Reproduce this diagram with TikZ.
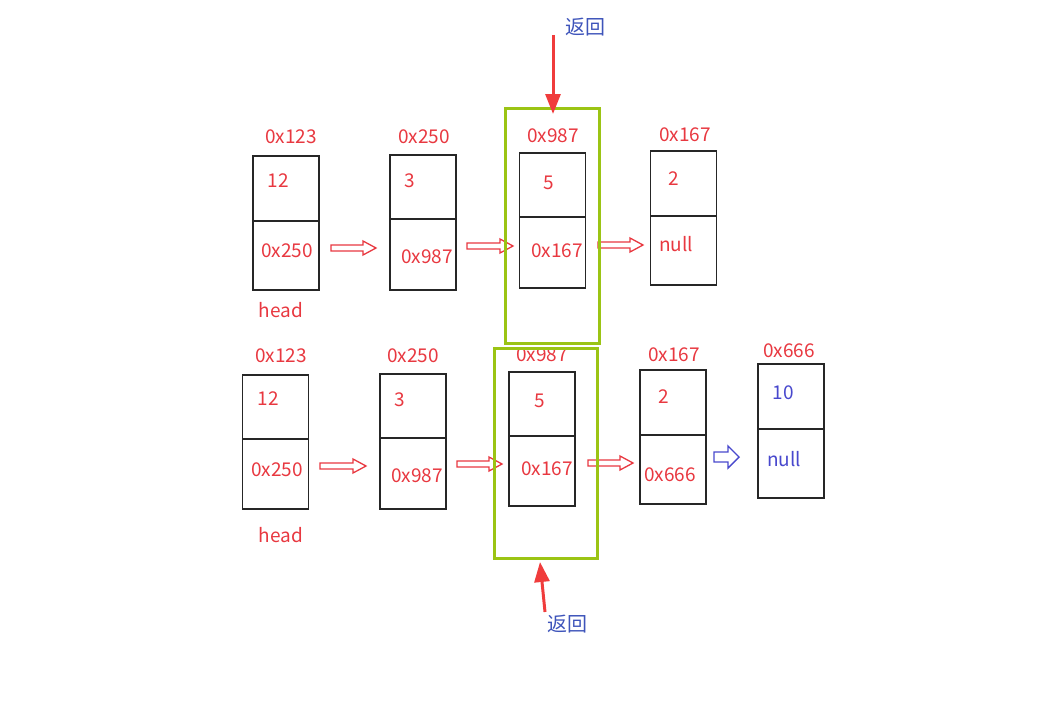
\documentclass[tikz,border=0pt]{standalone}
\usepackage{fontspec}
\setmainfont{Noto Sans CJK SC}
\usetikzlibrary{arrows.meta}
\definecolor{tred}{RGB}{232,56,64}
\definecolor{tblue}{RGB}{62,84,186}
\definecolor{nblue}{RGB}{72,72,205}
\definecolor{tgreen}{RGB}{155,196,20}
\definecolor{ared}{RGB}{240,60,60}
\tikzset{
  cell/.style={draw=black!85, line width=1.3pt, inner sep=0pt, minimum width=66pt},
  rtxt/.style={text=tred, font=\fontsize{19}{22}\selectfont, inner sep=0pt},
  btxt/.style={text=nblue, font=\fontsize{19}{22}\selectfont, inner sep=0pt},
  ftxt/.style={text=tblue, font=\fontsize{20}{22}\selectfont, inner sep=0pt},
  hol/.style={draw=tred, line width=1.3pt, line join=miter},
  holb/.style={draw=nblue, line width=1.4pt, line join=miter},
  gbox/.style={draw=tgreen, line width=3pt, inner sep=0pt},
  redarr/.style={draw=ared, line width=3pt, -{Triangle[length=20pt,width=15pt]}}
}
% hollow arrow: style, start point, length, shaft half, head half, head length
\newcommand\holarrow[6]{%
  \draw[#1] (#2) ++(0,-#4) -- ++({#3-#6},0) -- ++(0,{#4-#5}) -- ++(#6,#5) -- ++(-#6,#5) -- ++(0,{#4-#5}) -- ++({-(#3-#6)},0) -- cycle;}
\begin{document}
\begin{tikzpicture}[x=1pt,y=-1pt]
\useasboundingbox (0,0) rectangle (1048,701);
% ---------- row 1 ----------
\node[cell, minimum height=65pt] (a1t) at (286,188.5) {};
\node[cell, minimum height=69pt] (a1b) at (286,255.5) {};
\node[cell, minimum height=64pt] (a2t) at (423,187) {};
\node[cell, minimum height=71pt] (a2b) at (423,254.5) {};
\node[cell, minimum height=64pt] (a3t) at (552.5,185) {};
\node[cell, minimum height=71pt] (a3b) at (552.5,252.5) {};
\node[cell, minimum height=65pt] (a4t) at (683.5,183.5) {};
\node[cell, minimum height=69pt] (a4b) at (683.5,250.5) {};
\node[rtxt] (la1) at (291,137) {0x123};
\node[rtxt] (la2) at (424,137) {0x250};
\node[rtxt] (la3) at (553,136) {0x987};
\node[rtxt] (la4) at (685,135) {0x167};
\node[rtxt] (va1) at (278,181) {12};
\node[rtxt] (pa1) at (287,251) {0x250};
\node[rtxt] (ha) at (281,310) {head};
\node[rtxt] (va2) at (410,181) {3};
\node[rtxt] (pa2) at (427,257) {0x987};
\node[rtxt] (va3) at (549,183) {5};
\node[rtxt] (pa3) at (557,251) {0x167};
\node[rtxt] (va4) at (674,179) {2};
\node[rtxt] (pa4) at (676,244) {null};
\coordinate (sa1) at (331,248);
\coordinate (sa2) at (467,246);
\coordinate (sa3) at (598,245);
\holarrow{hol}{sa1}{45}{3}{7}{13}
\holarrow{hol}{sa2}{46}{3}{7}{13}
\holarrow{hol}{sa3}{45}{3}{7}{13}
\node[gbox, minimum width=94pt, minimum height=235pt] (g1) at (552,225.5) {};
\node[ftxt] (f1) at (585,27) {返回};
\coordinate (t1) at (553,35);
\coordinate (h1) at (553,114);
\draw[redarr] (t1) -- (h1);
% ---------- row 2 ----------
\node[cell, minimum height=64pt] (b1t) at (275.5,407) {};
\node[cell, minimum height=70pt] (b1b) at (275.5,474) {};
\node[cell, minimum height=64pt] (b2t) at (413,406) {};
\node[cell, minimum height=71pt] (b2b) at (413,473.5) {};
\node[cell, minimum height=64pt] (b3t) at (542,404) {};
\node[cell, minimum height=70pt] (b3b) at (542,471) {};
\node[cell, minimum height=65pt] (b4t) at (673,402.5) {};
\node[cell, minimum height=69pt] (b4b) at (673,469.5) {};
\node[cell, minimum height=65pt] (b5t) at (791,396.5) {};
\node[cell, minimum height=69pt] (b5b) at (791,463.5) {};
\node[rtxt] (lb1) at (281,356) {0x123};
\node[rtxt] (lb2) at (413,356) {0x250};
\node[rtxt] (lb3) at (542,355) {0x987};
\node[rtxt] (lb4) at (674,355) {0x167};
\node[rtxt] (lb5) at (789,351) {0x666};
\node[rtxt] (vb1) at (268,399) {12};
\node[rtxt] (pb1) at (277,470) {0x250};
\node[rtxt] (hb) at (281,535) {head};
\node[rtxt] (vb2) at (400,400) {3};
\node[rtxt] (pb2) at (417,476) {0x987};
\node[rtxt] (vb3) at (540,401) {5};
\node[rtxt] (pb3) at (547,469) {0x167};
\node[rtxt] (vb4) at (664,397) {2};
\node[rtxt] (pb4) at (670,475) {0x666};
\node[btxt] (vb5) at (783,393) {10};
\node[btxt] (pb5) at (784,459) {null};
\coordinate (sb1) at (320,466);
\coordinate (sb2) at (457,464);
\coordinate (sb3) at (588,463);
\coordinate (sb4) at (714,457);
\holarrow{hol}{sb1}{46}{3}{7}{13}
\holarrow{hol}{sb2}{45}{3}{7}{13}
\holarrow{hol}{sb3}{45}{3}{7}{13}
\holarrow{holb}{sb4}{25}{5}{11}{11}
\node[gbox, minimum width=103pt, minimum height=210pt] (g2) at (545.5,453) {};
\node[ftxt] (f2) at (567,624) {返回};
\coordinate (t2) at (545,612);
\coordinate (h2) at (540,562);
\draw[redarr] (t2) -- (h2);
\end{tikzpicture}
\end{document}
